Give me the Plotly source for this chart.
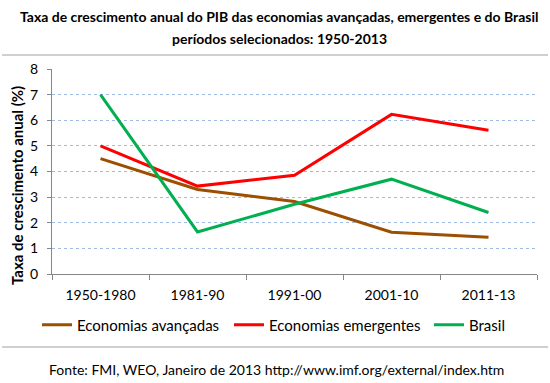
import plotly.graph_objects as go

periods = ["1950-1980", "1981-90", "1991-00", "2001-10", "2011-13"]
avancadas = [4.5, 3.3, 2.83, 1.63, 1.43]
emergentes = [5.0, 3.43, 3.85, 6.23, 5.61]
brasil = [7.0, 1.64, 2.72, 3.7, 2.4]

FONT = "Lato, Open Sans, sans-serif"
L, R, T, B = 52, 13, 69, 109
W, H = 550, 383
pw, ph = W - L - R, H - T - B

def px2paper_x(px):
    return (px - L) / pw

def px2paper_y(py):
    return (H - B - py) / ph

fig = go.Figure()
fig.add_trace(go.Scatter(x=periods, y=avancadas, mode="lines", name="Economias avançadas",
                         line=dict(color="#9c4f00", width=3), legend="legend"))
fig.add_trace(go.Scatter(x=periods, y=emergentes, mode="lines", name="Economias emergentes",
                         line=dict(color="#ff0000", width=3), legend="legend2"))
fig.add_trace(go.Scatter(x=periods, y=brasil, mode="lines", name="Brasil",
                         line=dict(color="#00b050", width=3), legend="legend3"))

def leg(px):
    return dict(orientation="h", x=px2paper_x(px), xanchor="left",
                y=px2paper_y(325), yanchor="middle", font=dict(size=15),
                bgcolor="rgba(0,0,0,0)", itemwidth=30)

fig.update_layout(
    width=W, height=H,
    margin=dict(l=L, r=R, t=T, b=B, autoexpand=False),
    paper_bgcolor="white", plot_bgcolor="white",
    font=dict(family=FONT, size=14, color="#000000"),
    showlegend=True,
    legend=leg(37), legend2=leg(229), legend3=leg(429),
    xaxis=dict(type="category", range=[-0.5, 4.5], showgrid=False,
               showline=True, linecolor="#868686", linewidth=1,
               ticks="outside", tickson="boundaries", ticklen=5, tickcolor="#868686",
               tickfont=dict(size=14), ticklabelstandoff=8,
               fixedrange=True, automargin=False),
    yaxis=dict(range=[0, 8], dtick=1, showgrid=True, gridcolor="#9dbbe6",
               griddash="dot", gridwidth=1,
               showline=True, linecolor="#868686", linewidth=1,
               ticks="outside", ticklen=4, tickcolor="#868686",
               tickfont=dict(size=14), ticklabelstandoff=6,
               zeroline=False, automargin=False),
    shapes=[
        dict(type="line", xref="paper", yref="paper", x0=px2paper_x(2), x1=px2paper_x(548),
             y0=px2paper_y(55), y1=px2paper_y(55), line=dict(color="#a0a0a0", width=1)),
        dict(type="line", xref="paper", yref="paper", x0=px2paper_x(2), x1=px2paper_x(548),
             y0=px2paper_y(347), y1=px2paper_y(347), line=dict(color="#a0a0a0", width=1)),
    ],
    annotations=[
        dict(text="<b>Taxa de crescimento anual do PIB das economias avançadas, emergentes e do Brasil</b>",
             xref="paper", yref="paper", x=px2paper_x(279), y=px2paper_y(16),
             xanchor="center", yanchor="middle", showarrow=False, font=dict(size=14)),
        dict(text="<b>períodos selecionados: 1950-2013</b>",
             xref="paper", yref="paper", x=px2paper_x(279), y=px2paper_y(38),
             xanchor="center", yanchor="middle", showarrow=False, font=dict(size=14)),
        dict(text="<b>Taxa de crescimento anual (%)</b>", textangle=-90,
             xref="paper", yref="paper", x=px2paper_x(17), y=px2paper_y(186),
             xanchor="center", yanchor="middle", showarrow=False, font=dict(size=15)),
        dict(text="Fonte: FMI, WEO, Janeiro de 2013 http://www.imf.org/external/index.htm",
             xref="paper", yref="paper", x=px2paper_x(47), y=px2paper_y(369),
             xanchor="left", yanchor="middle", showarrow=False, font=dict(size=14)),
    ],
)

fig.write_html("out.html", config={"displayModeBar": False},
               post_script="document.body.style.margin='0px';")
